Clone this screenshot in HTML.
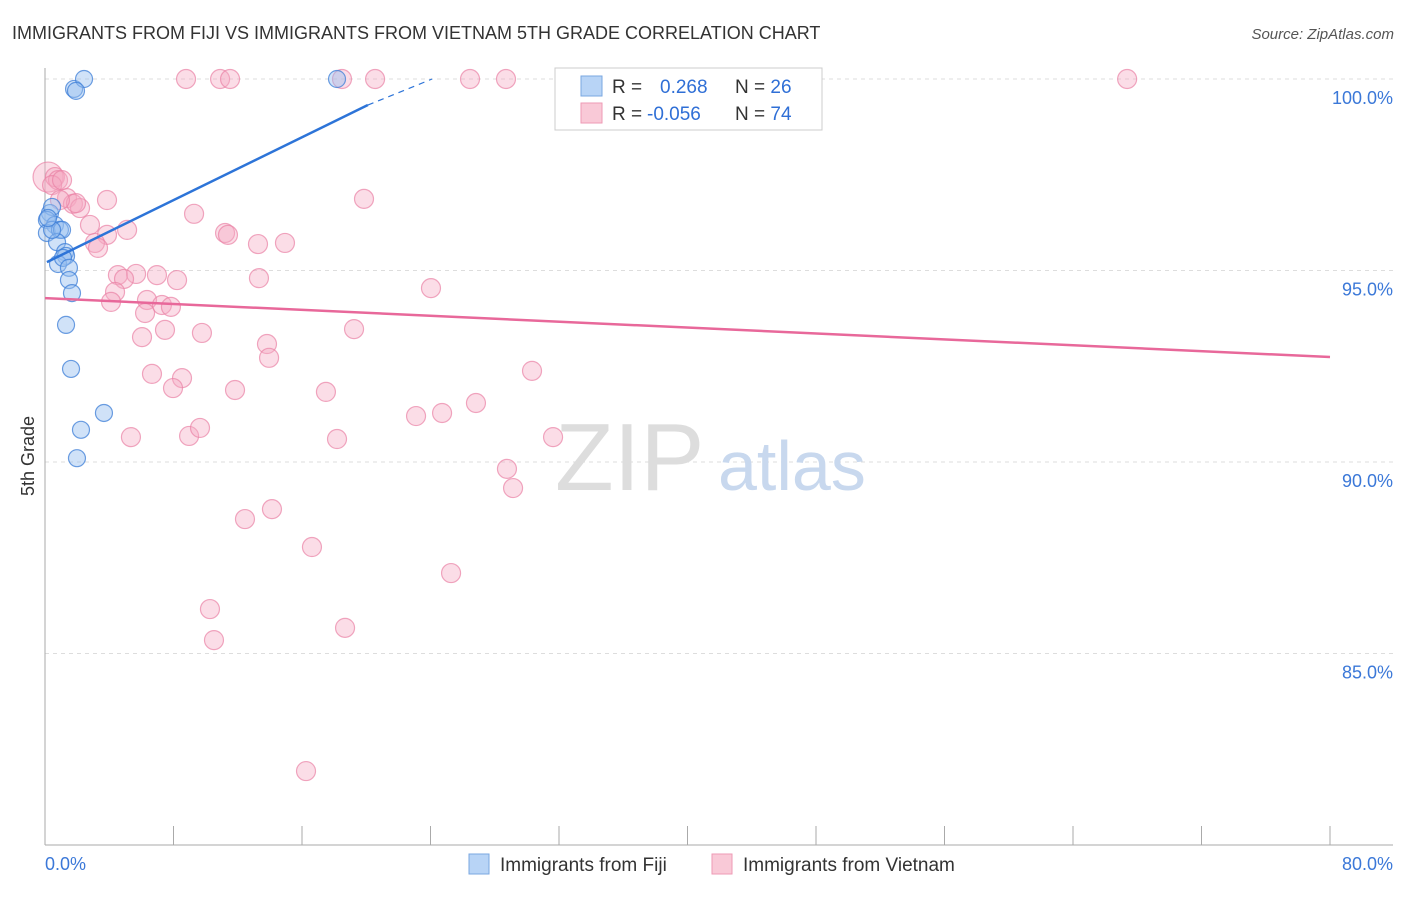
<!DOCTYPE html>
<html><head><meta charset="utf-8"><style>
body{margin:0;background:#fff;font-family:"Liberation Sans",sans-serif}
svg text{font-family:"Liberation Sans",sans-serif}
</style></head><body>
<svg width="1406" height="892" xmlns="http://www.w3.org/2000/svg" id="chart">
<text x="12" y="39" font-size="18" fill="#333">IMMIGRANTS FROM FIJI VS IMMIGRANTS FROM VIETNAM 5TH GRADE CORRELATION CHART</text>
<text x="1394" y="39" font-size="15" fill="#555" font-style="italic" text-anchor="end">Source: ZipAtlas.com</text>
<g id="grid"></g>
<g id="axes"></g>
<text x="555" y="490" font-size="96" fill="#ddd" font-family="Liberation Serif">ZIP</text>
<text x="718" y="490" font-size="70" fill="#c8d8ee">atlas</text>
<g id="pts"></g>
<g id="trend"></g>
<text transform="translate(34,456) rotate(-90)" font-size="18" fill="#333" text-anchor="middle">5th Grade</text>
<g>
<rect x="555" y="68" width="267" height="62" fill="#fff" stroke="#ccc"/>
<rect x="581" y="76" width="21" height="20" fill="#b8d4f6" stroke="#7aa7e0"/>
<rect x="581" y="103" width="21" height="20" fill="#f9c9d7" stroke="#ee9ab4"/>
<text x="612" y="93" font-size="19" fill="#333">R = <tspan fill="#2f6fd6" x="660">0.268</tspan><tspan x="735" fill="#333">N = </tspan><tspan fill="#2f6fd6">26</tspan></text>
<text x="612" y="120" font-size="19" fill="#333">R = <tspan fill="#2f6fd6" x="647">-0.056</tspan><tspan x="735" fill="#333">N = </tspan><tspan fill="#2f6fd6">74</tspan></text>
</g>
<g>
<rect x="469" y="854" width="20" height="20" fill="#b8d4f6" stroke="#7aa7e0"/>
<text x="500" y="871" font-size="19" fill="#333">Immigrants from Fiji</text>
<rect x="712" y="854" width="20" height="20" fill="#f9c9d7" stroke="#ee9ab4"/>
<text x="743" y="871" font-size="19" fill="#333">Immigrants from Vietnam</text>
</g>
</svg>
<script>
const fijiX=[1.81,2.43,1.93,18.18,0.31,0.44,0.12,0.62,0.12,0.93,1.06,0.75,1.25,1.31,0.81,1.12,1.49,1.49,1.68,1.31,1.62,3.67,2.24,1.99,0.44,0.19];
const fijiY=[99.74,100,99.69,100,96.50,96.66,96.32,96.19,95.98,96.06,96.06,95.74,95.48,95.38,95.17,95.33,95.07,94.75,94.41,93.58,92.43,91.28,90.84,90.10,96.06,96.37];
const vietX=[8.78,10.90,11.52,18.49,20.55,26.46,28.70,43.27,67.37,0.19,0.62,0.81,0.44,1.37,1.74,2.18,1.93,19.86,9.28,2.80,5.11,11.21,11.39,3.86,3.11,3.30,13.26,14.94,4.54,5.67,6.97,8.22,4.92,13.32,24.03,4.36,6.35,4.11,7.28,7.84,6.23,6.04,7.47,9.77,19.24,13.82,13.95,6.66,8.53,7.97,11.83,17.49,30.32,26.83,23.10,24.72,5.35,8.97,9.65,18.18,31.63,28.76,29.14,12.45,14.13,16.62,25.28,10.27,10.52,18.68,16.25,1.06,0.93,3.86];
const vietY=[100,100,100,100,100,100,100,100,100,97.44,97.44,97.36,97.23,96.89,96.74,96.63,96.76,96.87,96.48,96.19,96.06,95.98,95.93,95.93,95.72,95.59,95.69,95.72,94.88,94.91,94.88,94.75,94.78,94.80,94.54,94.44,94.23,94.18,94.10,94.05,93.89,93.26,93.45,93.37,93.47,93.08,92.72,92.30,92.19,91.93,91.88,91.83,92.38,91.54,91.20,91.28,90.65,90.68,90.89,90.60,90.65,89.82,89.32,88.51,88.77,87.78,87.10,86.16,85.35,85.67,81.93,97.36,96.84,96.84];
const yTicks=[100,95,90,85];
const yTickLabels=["100.0%","95.0%","90.0%","85.0%"];
const xTickVals=[0,8,16,24,32,40,48,56,64,72,80];
const fijiTrend=[[0.12,95.22],[20.1,99.32],[24.1,100]];
const vietTrend=[[0,94.28],[80,92.74]];
const NS="http://www.w3.org/2000/svg";
const X=v=>45+v/80*1285, Y=v=>79+(100-v)*38.3;
function mk(tag,attrs,parent){const e=document.createElementNS(NS,tag);for(const k in attrs)e.setAttribute(k,attrs[k]);parent.appendChild(e);return e;}
const grid=document.getElementById('grid'),axes=document.getElementById('axes'),pts=document.getElementById('pts'),tr=document.getElementById('trend');
yTicks.forEach((t,i)=>{
 const l=mk('line',{x1:45,x2:1393,y1:Y(t),y2:Y(t),stroke:'#ddd','stroke-dasharray':'4,4'},grid);
 
 
 const tx=mk('text',{x:1393,y:Y(t)+25,'font-size':18,fill:'#3b78d8','text-anchor':'end'},axes);
 tx.textContent=yTickLabels[i];
 
 
});
const ax=mk('line',{x1:45,x2:45,y1:68,y2:845,stroke:'#aaa'},axes);


const bx=mk('line',{x1:45,x2:1393,y1:845,y2:845,stroke:'#aaa'},axes);


xTickVals.forEach(t=>{
 const l=mk('line',{x1:X(t),x2:X(t),y1:826,y2:845,stroke:'#aaa'},axes);
 
 
});
const xl0=mk('text',{x:45,y:870,'font-size':18,fill:'#3b78d8'},axes);xl0.textContent='0.0%';


const xl1=mk('text',{x:1393,y:870,'font-size':18,fill:'#3b78d8','text-anchor':'end'},axes);xl1.textContent='80.0%';


vietX.forEach((x,i)=>{
 const c=mk('circle',{cx:X(x),cy:Y(vietY[i]),r:i===9?15:9.5,fill:'rgba(246,170,195,0.4)',stroke:'rgba(234,130,165,0.7)','stroke-width':1.2},pts);
 
 
});
fijiX.forEach((x,i)=>{
 const c=mk('circle',{cx:X(x),cy:Y(fijiY[i]),r:8.5,fill:'rgba(150,190,240,0.45)',stroke:'rgba(60,125,215,0.75)','stroke-width':1.2},pts);
 
 
});
const b1=mk('line',{x1:X(fijiTrend[0][0]),y1:Y(fijiTrend[0][1]),x2:X(fijiTrend[1][0]),y2:Y(fijiTrend[1][1]),stroke:'#2d74d8','stroke-width':2.5},tr);


const b2=mk('line',{x1:X(fijiTrend[1][0]),y1:Y(fijiTrend[1][1]),x2:X(fijiTrend[2][0]),y2:Y(fijiTrend[2][1]),stroke:'#2d74d8','stroke-width':1.2,'stroke-dasharray':'6,5'},tr);


const p1=mk('line',{x1:X(vietTrend[0][0]),y1:Y(vietTrend[0][1]),x2:X(vietTrend[1][0]),y2:Y(vietTrend[1][1]),stroke:'#e8689a','stroke-width':2.5},tr);


</script>
</body></html>
